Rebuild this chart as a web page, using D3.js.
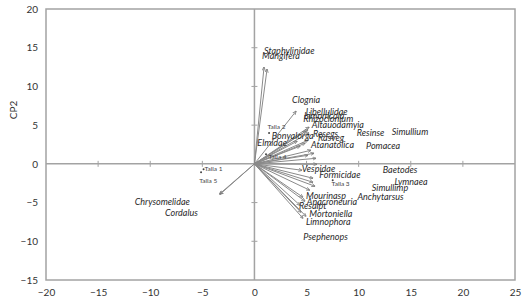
<!DOCTYPE html>
<html>
<head>
<meta charset="utf-8">
<script src="https://cdn.jsdelivr.net/npm/d3@7"></script>
<style>
  body { margin: 0; background: #fff; }
  svg text { font-family: Lato, "Open Sans", sans-serif; }
</style>
</head>
<body>
<svg id="chart" width="528" height="301"></svg>
<script>
// variables: name, arrow tip (x, y), label position (x, y) in CP units
var names = ["Staphylinidae","Mangifera","Clognia","Libellulidae","Limonicola","Rhizoclonium",
  "Altauodamyia","Bonyalorga","Resegs","Rasveg","Elmidae","Atanatolica","Resinse","Simullium",
  "Pomacea","Baetodes","Vespidae","Formicidae","Lymnaea","Simullimp","Anchytarsus","Mourinasp",
  "Anacroneuria","Resalpt","Mortoniella","Limnophora","Psephenops","Chrysomelidae","Cordalus"];
var tipX = [1.21,0.92,3.99,5.24,5.14,4.95, 5.24,4.09,5.14,4.86,4.38,5.14,5.43,5.72,
  5.91,6.0,4.57,5.62,5.82,5.62,5.3,4.66, 4.86,4.38,4.95,4.66,4.47,-3.35,-3.30];
var tipY = [12.24,12.5,6.8,4.74,4.41,4.22, 4.02,2.92,3.05,2.66,2.28,1.11,1.76,1.37,
  0.72,-0.05,-0.83,-1.86,-2.9,-2.38,-3.4,-4.32, -4.84,-5.36,-6.78,-7.04,-6.26,-3.9,-3.93];
var labX = [0.92,0.73,3.61,4.92,4.76,4.69, 5.5,1.66,5.62,6.1,0.28,5.43,9.82,13.18,
  10.71,12.31,4.54,6.23,13.43,11.26,9.88,4.95, 5.02,4.28,5.27,4.95,4.69,-11.49,-8.58];
var labY = [14.18,13.53,7.84,6.29,5.77,5.38, 4.67,3.18,3.44,2.92,2.28,2.02,3.64,3.7,
  1.89,-1.15,-1.09,-1.86,-2.7,-3.54,-4.64,-4.58, -5.29,-5.87,-6.91,-7.88,-9.88,-5.29,-6.78];

// sample points (Talla)
var tallaNames = ["Talla 1","Talla 2","Talla 3","Talla 4","Talla 5"];
var tallaX = [-4.88,1.4,7.51,1.11,-5.12];
var tallaY = [-0.7,4.0,-2.12,1.24,-1.09];
var tallaLabX = [-4.8,1.25,7.4,1.35,-5.3];
var tallaLabY = [-0.88,4.5,-2.87,0.6,-2.5];

var xTicks = [-20,-15,-10,-5,0,5,10,15,20,25];
var yTicks = [-15,-10,-5,0,5,10,15,20];

var svg = d3.select("#chart");
var x = d3.scaleLinear().domain([-20,25]).range([46,515]);
var y = d3.scaleLinear().domain([-15,20]).range([280,9]);
var axisCol = "#a3a3a3";

// frame
svg.append("rect").attr("x",x(-20)).attr("y",y(20))
  .attr("width",x(25)-x(-20)).attr("height",y(-15)-y(20))
  .attr("fill","none").attr("stroke",axisCol).attr("stroke-width",1.5);

// tick labels
svg.append("g").attr("transform","translate(0,"+y(-15)+")")
  .call(d3.axisBottom(x).tickValues(xTicks).tickSize(0).tickPadding(9))
  .call(g=>g.select(".domain").remove())
  .selectAll("text").attr("font-size",10).attr("fill","#333")
  .style("font-family","Lato, sans-serif");
svg.append("g").attr("transform","translate("+x(-20)+",0)")
  .call(d3.axisLeft(y).tickValues(yTicks).tickSize(0).tickPadding(8))
  .call(g=>g.select(".domain").remove())
  .selectAll("text").attr("font-size",10).attr("fill","#333")
  .style("font-family","Lato, sans-serif");

svg.append("text").attr("transform","translate(17,110) rotate(-90)")
  .attr("text-anchor","middle").attr("font-size",10).attr("fill","#333").text("CP2");

// zero lines with crossing ticks
svg.append("line").attr("x1",x(-20)).attr("x2",x(25)).attr("y1",y(0)).attr("y2",y(0))
  .attr("stroke",axisCol).attr("stroke-width",1.5);
svg.append("line").attr("x1",x(0)).attr("x2",x(0)).attr("y1",y(20)).attr("y2",y(-15))
  .attr("stroke",axisCol).attr("stroke-width",1.5);
svg.selectAll(".xt").data(xTicks.filter(d=>d>-20 && d<25 && d!=0)).enter()
  .append("line").attr("x1",d=>x(d)).attr("x2",d=>x(d))
  .attr("y1",y(0)-3).attr("y2",y(0)+3).attr("stroke",axisCol);
svg.selectAll(".yt").data(yTicks.filter(d=>d>-15 && d<20 && d!=0)).enter()
  .append("line").attr("y1",d=>y(d)).attr("y2",d=>y(d))
  .attr("x1",x(0)-3).attr("x2",x(0)+3).attr("stroke",axisCol);

// arrowhead
svg.append("defs").append("marker").attr("id","ah")
  .attr("viewBox","0 0 10 10").attr("refX",9).attr("refY",5)
  .attr("markerWidth",4).attr("markerHeight",4).attr("orient","auto")
  .append("path").attr("d","M0,1L10,5L0,9").attr("fill","none")
  .attr("stroke","#777").attr("stroke-width",1.8);

svg.selectAll(".arr").data(names).enter().append("line")
  .attr("x1",x(0)).attr("y1",y(0))
  .attr("x2",(d,i)=>x(tipX[i])).attr("y2",(d,i)=>y(tipY[i]))
  .attr("stroke","#8a8a8a").attr("stroke-width",1)
  .attr("marker-end","url(#ah)");

svg.selectAll(".lab").data(names).enter().append("text")
  .attr("x",(d,i)=>x(labX[i])).attr("y",(d,i)=>y(labY[i]))
  .attr("font-size",9).attr("font-style","italic").attr("fill","#2a2a2a")
  .text(d=>d);

svg.selectAll(".tp").data(tallaNames).enter().append("circle")
  .attr("cx",(d,i)=>x(tallaX[i])).attr("cy",(d,i)=>y(tallaY[i]))
  .attr("r",1).attr("fill","#444");
svg.selectAll(".tl").data(tallaNames).enter().append("text")
  .attr("x",(d,i)=>x(tallaLabX[i])).attr("y",(d,i)=>y(tallaLabY[i]))
  .attr("font-size",6.5).attr("fill","#444").text(d=>d);
</script>
</body>
</html>
